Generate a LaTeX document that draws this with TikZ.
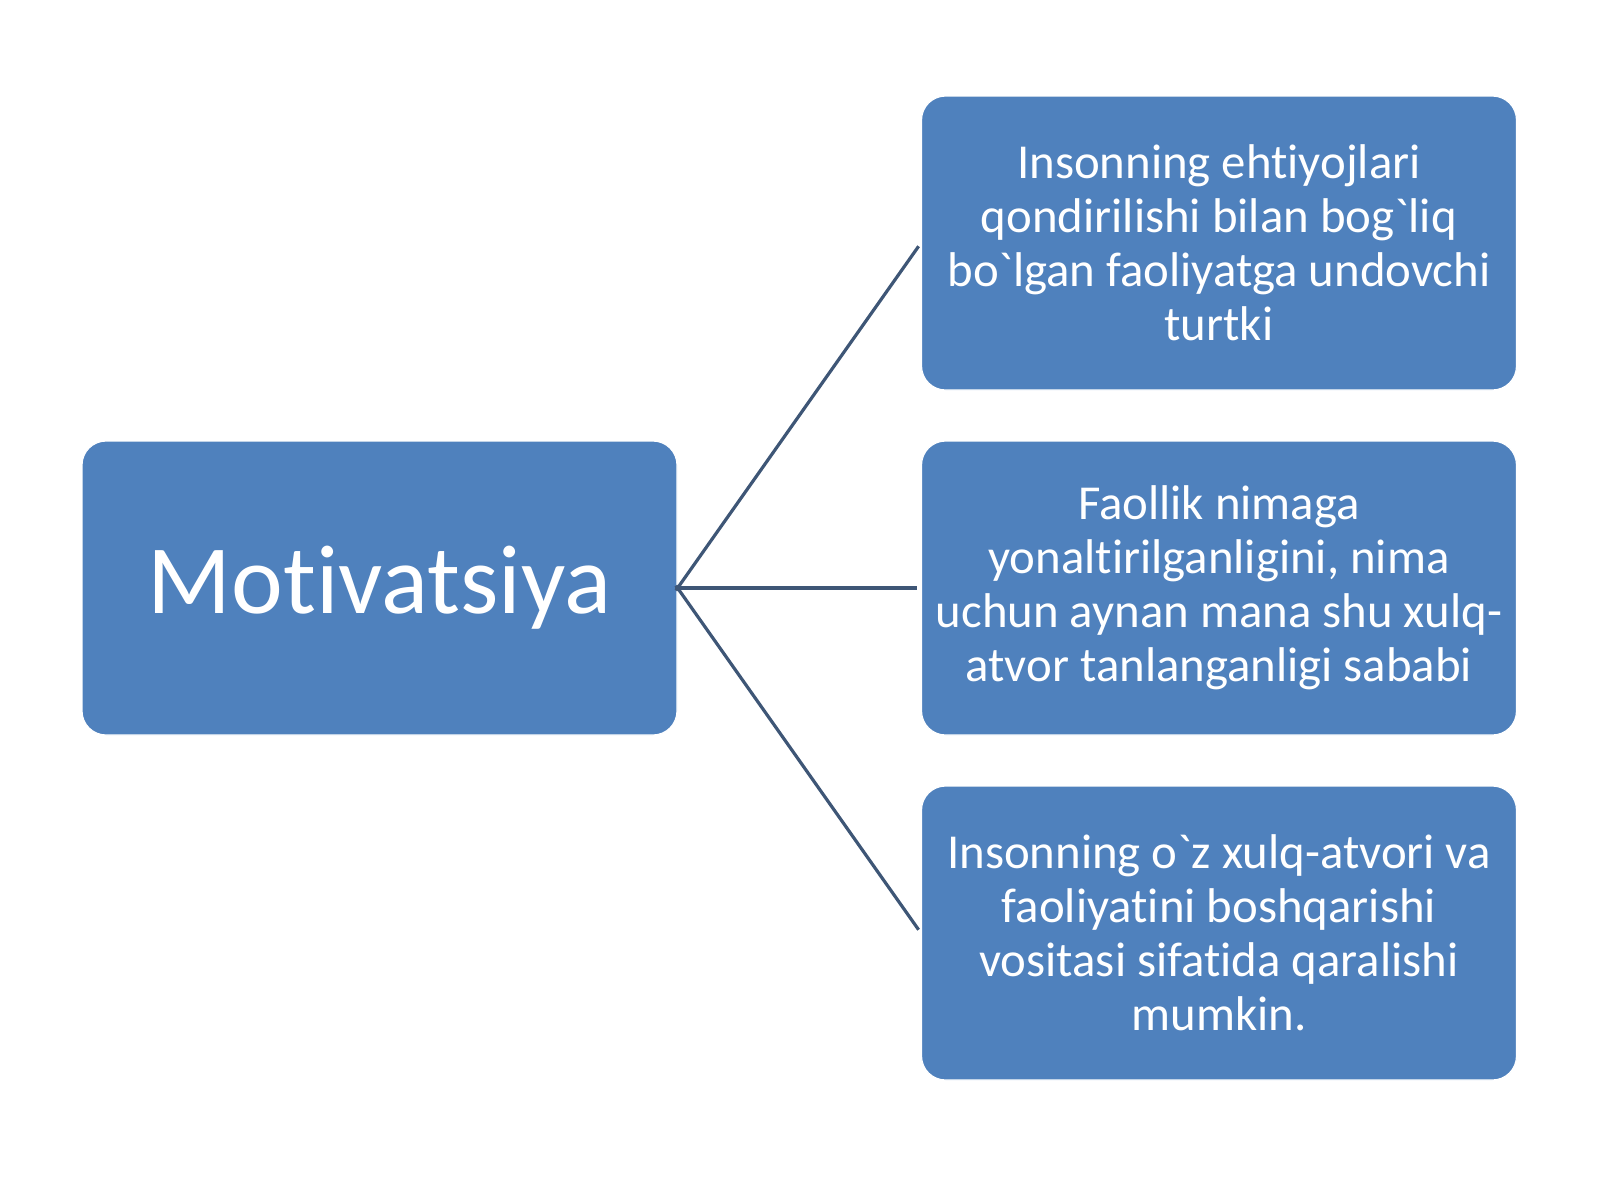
\documentclass[tikz,border=0pt]{standalone}
\usepackage{fontspec}
\setmainfont{Carlito}[Ligatures=NoCommon]
\usepackage{tikz}

\definecolor{boxblue}{RGB}{79,129,189}
\definecolor{linkblue}{RGB}{62,86,118}

\begin{document}
\begin{tikzpicture}[x=0.5pt,y=-0.5pt,
		box/.style={fill=boxblue, draw=white, line width=0.6pt, rounded corners=12pt,
			minimum width=297.5pt, minimum height=147pt, text=white, align=center,
			inner sep=0pt},
		link/.style={linkblue, line width=1.6pt, shorten >=2pt, shorten <=-1.5pt}]
		\useasboundingbox (0,0) rectangle (1600,1200);
		\node[box, font=\fontsize{49}{58}\selectfont] (mot) at (379.5,588) {Motivatsiya};
		\node[box, font=\fontsize{24.4}{27}\selectfont] (need) at (1219,243)
			{Insonning ehtiyojlari\\qondirilishi bilan bog\textasciigrave liq\\bo\textasciigrave lgan faoliyatga undovchi\\turtki};
		\node[box, font=\fontsize{24.4}{27}\selectfont] (aim) at (1219,588)
			{Faollik nimaga\\yonaltirilganligini, nima\\uchun aynan mana shu xulq-\\atvor tanlanganligi sababi};
		\node[box, font=\fontsize{24.4}{27}\selectfont] (tool) at (1219,933)
			{Insonning o\textasciigrave z xulq-atvori va\\faoliyatini boshqarishi\\vositasi sifatida qaralishi\\mumkin.};
		\draw[link] (mot.east) -- (need.west);
		\draw[link] (mot.east) -- (aim.west);
		\draw[link] (mot.east) -- (tool.west);
	\end{tikzpicture}
\end{document}
